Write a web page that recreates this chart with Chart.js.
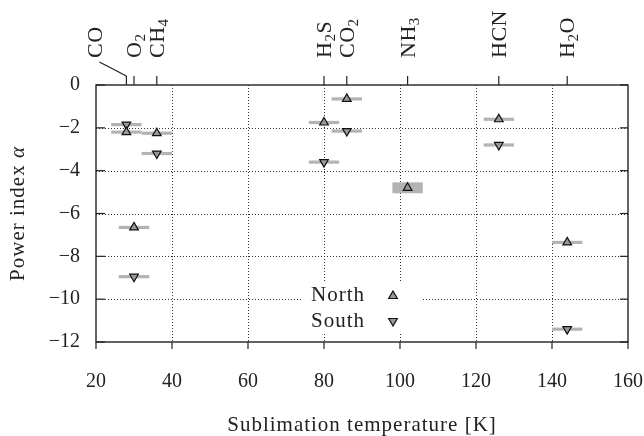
<!DOCTYPE html>
<html>
<head>
<meta charset="utf-8">
<script src="https://cdn.jsdelivr.net/npm/chart.js@4/dist/chart.umd.min.js"></script>
<style>
  html, body { margin: 0; padding: 0; background: #fff; }
  #wrap { width: 644px; height: 436px; }
</style>
</head>
<body>
<div id="wrap"><canvas id="c" width="644" height="436"></canvas></div>
<script>
// sublimation temperatures [K] and molecule labels on the top axis
const molecules = ['CO', 'O2', 'CH4', 'H2S', 'CO2', 'NH3', 'HCN', 'H2O'];
const temps = [28, 30, 36, 80, 86, 102, 126, 144];

// power index per molecule, north and south hemisphere
const north = [-2.2, -6.65, -2.25, -1.75, -0.65, -4.8, -1.6, -7.35];
const south = [-1.85, -8.95, -3.2, -3.6, -2.15, null, -2.8, -11.4];
const northYErr = [0, 0, 0, 0, 0, 0.18, 0, 0];
const tempErr = 4;

const xTicks = [20, 40, 60, 80, 100, 120, 140, 160];
const yTicks = [0, -2, -4, -6, -8, -10, -12];

const FONT = "'Liberation Serif', 'DejaVu Serif', serif";
const INK = '#222';
const BAR_GRAY = '#b3b3b3';
const MARK_FILL = '#999';

// CO label is pushed left with a leader line so it does not collide with O2
const labelShift = { CO: -31 };

function toPoints(ys) {
  return temps.map((t, i) => ({ x: t, y: ys[i] })).filter((p) => p.y !== null);
}

function drawChem(ctx, name, big, small) {
  // draws a formula with subscript digits, starting at the local origin
  let x = 0;
  for (const ch of name) {
    const isDigit = /[0-9]/.test(ch);
    ctx.font = (isDigit ? small : big) + 'px ' + FONT;
    ctx.fillText(ch, x, isDigit ? 11 : 7);
    x += ctx.measureText(ch).width + 0.5;
  }
}

const framePlugin = {
  id: 'frame',
  beforeDatasetsDraw(chart) {
    const { ctx, chartArea: a, scales } = chart;
    const xs = scales.x, ys = scales.y;
    ctx.save();

    // dotted grid
    ctx.strokeStyle = '#333';
    ctx.lineWidth = 1;
    ctx.setLineDash([1, 2]);
    xTicks.slice(1, -1).forEach((v) => {
      const px = Math.round(xs.getPixelForValue(v)) + 0.5;
      ctx.beginPath(); ctx.moveTo(px, a.top); ctx.lineTo(px, a.bottom); ctx.stroke();
    });
    yTicks.slice(1, -1).forEach((v) => {
      const py = Math.round(ys.getPixelForValue(v)) + 0.5;
      ctx.beginPath(); ctx.moveTo(a.left, py); ctx.lineTo(a.right, py); ctx.stroke();
    });
    ctx.setLineDash([]);

    // legend background hides the grid
    ctx.fillStyle = '#fff';
    ctx.fillRect(302, 282, 121, 51);

    // frame and ticks
    ctx.strokeStyle = INK;
    ctx.lineWidth = 1.4;
    ctx.strokeRect(a.left, a.top, a.right - a.left, a.bottom - a.top);
    ctx.lineWidth = 1.2;
    xTicks.forEach((v) => {
      const px = xs.getPixelForValue(v);
      ctx.beginPath(); ctx.moveTo(px, a.bottom); ctx.lineTo(px, a.bottom + 7); ctx.stroke();
    });
    yTicks.forEach((v) => {
      const py = ys.getPixelForValue(v);
      ctx.beginPath(); ctx.moveTo(a.left, py); ctx.lineTo(a.left + 9, py); ctx.stroke();
      ctx.beginPath(); ctx.moveTo(a.right, py); ctx.lineTo(a.right - 8, py); ctx.stroke();
    });

    // molecule ticks and labels on top
    ctx.fillStyle = INK;
    molecules.forEach((m, i) => {
      const px = xs.getPixelForValue(temps[i]);
      ctx.beginPath(); ctx.moveTo(px, a.top); ctx.lineTo(px, a.top - 9); ctx.stroke();
      const shift = labelShift[m] || 0;
      if (shift) {
        ctx.beginPath(); ctx.moveTo(px, a.top - 9); ctx.lineTo(px + shift + 4, a.top - 23); ctx.stroke();
      }
      ctx.save();
      ctx.translate(px + shift, a.top - 27);
      ctx.rotate(-Math.PI / 2);
      ctx.textBaseline = 'alphabetic';
      ctx.textAlign = 'left';
      drawChem(ctx, m, 22, 15);
      ctx.restore();
    });

    // horizontal temperature error bars
    ctx.fillStyle = BAR_GRAY;
    const bars = [];
    temps.forEach((t, i) => {
      if (north[i] !== null) bars.push([t, north[i], northYErr[i]]);
      if (south[i] !== null) bars.push([t, south[i], 0]);
    });
    bars.forEach(([t, v, ey]) => {
      const x0 = xs.getPixelForValue(t - tempErr);
      const x1 = xs.getPixelForValue(t + tempErr);
      const y0 = ys.getPixelForValue(v + ey) - 1.6;
      const y1 = ys.getPixelForValue(v - ey) + 1.6;
      ctx.fillRect(x0, y0, x1 - x0, y1 - y0);
    });

    // axis titles
    ctx.fillStyle = INK;
    ctx.textBaseline = 'middle';
    ctx.letterSpacing = '1px';
    ctx.font = '21px ' + FONT;
    ctx.textAlign = 'center';
    ctx.fillText('Sublimation temperature [K]', (a.left + a.right) / 2, 425);

    ctx.save();
    ctx.translate(18, (a.top + a.bottom) / 2);
    ctx.rotate(-Math.PI / 2);
    ctx.textAlign = 'left';
    const t1 = 'Power index ';
    ctx.font = '21px ' + FONT;
    const w1 = ctx.measureText(t1).width;
    ctx.font = 'italic 21px ' + FONT;
    const w2 = ctx.measureText('α').width;
    ctx.font = '21px ' + FONT;
    ctx.fillText(t1, -(w1 + w2) / 2, 0);
    ctx.font = 'italic 21px ' + FONT;
    ctx.fillText('α', -(w1 + w2) / 2 + w1, 0);
    ctx.restore();

    ctx.restore();
  },
  afterDatasetsDraw(chart) {
    const { ctx } = chart;
    ctx.save();
    ctx.fillStyle = INK;
    ctx.letterSpacing = '1px';
    ctx.font = '21px ' + FONT;
    ctx.textBaseline = 'middle';
    ctx.textAlign = 'left';
    ctx.fillText('North', 311, 295);
    ctx.fillText('South', 311, 321);
    const opts = { pointStyle: 'triangle', radius: 5, rotation: 0, borderWidth: 1.2 };
    ctx.fillStyle = MARK_FILL;
    ctx.strokeStyle = '#111';
    ctx.lineWidth = 1.2;
    Chart.helpers.drawPoint(ctx, opts, 393, 296);
    Chart.helpers.drawPoint(ctx, { ...opts, rotation: 180 }, 393, 321);
    ctx.restore();
  }
};

new Chart(document.getElementById('c'), {
  type: 'scatter',
  data: {
    datasets: [
      {
        label: 'North',
        data: toPoints(north),
        pointStyle: 'triangle',
        rotation: 0,
        pointRadius: 5,
        backgroundColor: MARK_FILL,
        borderColor: '#111',
        borderWidth: 1.2,
      },
      {
        label: 'South',
        data: toPoints(south),
        pointStyle: 'triangle',
        rotation: 180,
        pointRadius: 5,
        backgroundColor: MARK_FILL,
        borderColor: '#111',
        borderWidth: 1.2,
      },
    ],
  },
  options: {
    responsive: false,
    animation: false,
    layout: { padding: { top: 85, right: 16, left: 0, bottom: 0 } },
    plugins: {
      legend: { display: false },
      tooltip: { enabled: false },
    },
    scales: {
      x: {
        type: 'linear',
        min: 20,
        max: 160,
        afterBuildTicks: (s) => { s.ticks = xTicks.map((v) => ({ value: v })); },
        afterFit: (s) => { s.height = 94; s.paddingLeft = 0; s.paddingRight = 0; },
        grid: { display: false, drawTicks: false },
        border: { display: false },
        ticks: { color: INK, font: { family: FONT, size: 20 }, padding: 28, maxRotation: 0 },
      },
      y: {
        type: 'linear',
        min: -12,
        max: 0,
        afterBuildTicks: (s) => { s.ticks = yTicks.map((v) => ({ value: v })); },
        afterFit: (s) => { s.width = 96; s.paddingTop = 0; s.paddingBottom = 0; },
        grid: { display: false, drawTicks: false },
        border: { display: false },
        ticks: {
          color: INK,
          font: { family: FONT, size: 20 },
          padding: 16,
          callback: (v) => (v === 0 ? '0' : '\u2212' + Math.abs(v)),
        },
      },
    },
  },
  plugins: [framePlugin],
});
</script>
</body>
</html>
